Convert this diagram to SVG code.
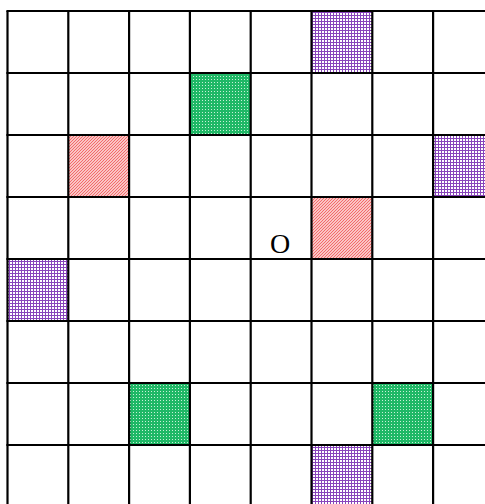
<svg xmlns="http://www.w3.org/2000/svg" width="485" height="504" viewBox="0 0 485 504">
<defs>
<pattern id="purple" patternUnits="userSpaceOnUse" width="3" height="3">
<rect width="3" height="3" fill="#ffffff"/>
<rect x="0" y="0" width="1" height="3" fill="#8844bb"/>
<rect x="0" y="0" width="3" height="1" fill="#8844bb"/>
</pattern>
<pattern id="green" patternUnits="userSpaceOnUse" width="3" height="3">
<rect width="3" height="3" fill="#1fb866"/>
<rect x="1" y="1" width="1" height="1" fill="#c8f0d8"/>
</pattern>
<pattern id="red" patternUnits="userSpaceOnUse" width="3" height="3">
<rect width="3" height="3" fill="#fff0f0"/>
<path d="M-1,1 L1,-1 M0,3 L3,0 M2,4 L4,2" stroke="#f26666" stroke-width="1.2"/>
</pattern>
<style>
.grid line{stroke:#000;stroke-width:2.2}
.p{fill:url(#purple)}
.g{fill:url(#green)}
.r{fill:url(#red)}
</style>
</defs>
<rect width="485" height="504" fill="#fff"/>
<g id="cells">
<g id="p1"><rect class="p" x="311.5" y="11" width="60.8" height="62"/></g>
<g id="p2"><rect class="p" x="433.1" y="135" width="60.8" height="62"/></g>
<g id="p3"><rect class="p" x="7.5" y="259" width="60.8" height="62"/></g>
<g id="p4"><rect class="p" x="311.5" y="445" width="60.8" height="62"/></g>
<g id="g1"><rect class="g" x="189.9" y="73" width="60.8" height="62"/></g>
<g id="g2"><rect class="g" x="129.1" y="383" width="60.8" height="62"/></g>
<g id="g3"><rect class="g" x="372.3" y="383" width="60.8" height="62"/></g>
<g id="r1"><rect class="r" x="68.3" y="135" width="60.8" height="62"/></g>
<g id="r2"><rect class="r" x="311.5" y="197" width="60.8" height="62"/></g>
</g>
<g id="connectors" class="grid">
<line x1="7.5" y1="11" x2="7.5" y2="504"/>
<line x1="68.3" y1="11" x2="68.3" y2="504"/>
<line x1="129.1" y1="11" x2="129.1" y2="504"/>
<line x1="189.9" y1="11" x2="189.9" y2="504"/>
<line x1="250.7" y1="11" x2="250.7" y2="504"/>
<line x1="311.5" y1="11" x2="311.5" y2="504"/>
<line x1="372.3" y1="11" x2="372.3" y2="504"/>
<line x1="433.1" y1="11" x2="433.1" y2="504"/>
<line x1="6.4" y1="11" x2="485" y2="11"/>
<line x1="6.4" y1="73" x2="485" y2="73"/>
<line x1="6.4" y1="135" x2="485" y2="135"/>
<line x1="6.4" y1="197" x2="485" y2="197"/>
<line x1="6.4" y1="259" x2="485" y2="259"/>
<line x1="6.4" y1="321" x2="485" y2="321"/>
<line x1="6.4" y1="383" x2="485" y2="383"/>
<line x1="6.4" y1="445" x2="485" y2="445"/>
</g>
<g id="origin"><text x="280" y="253" text-anchor="middle" font-family="'Liberation Serif', serif" font-size="28" fill="#000">O</text></g>
</svg>
